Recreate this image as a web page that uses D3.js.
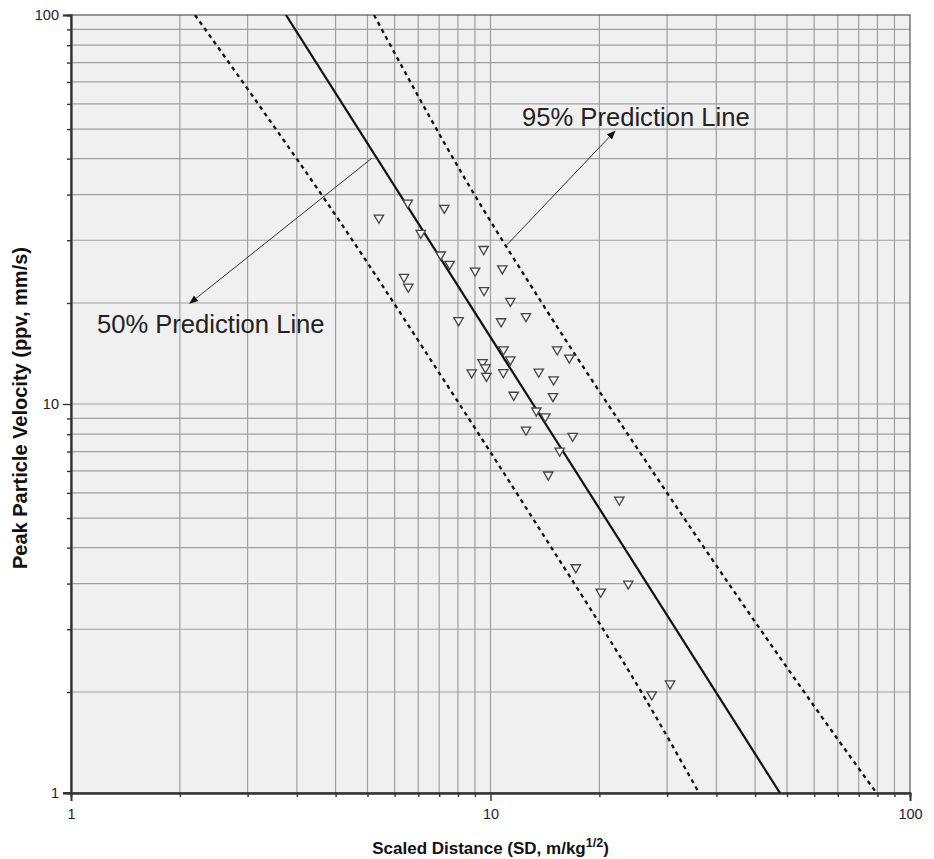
<!DOCTYPE html>
<html>
<head>
<meta charset="utf-8">
<script src="https://cdn.jsdelivr.net/npm/d3@7/dist/d3.min.js"></script>
<style>
  body { margin: 0; background: #fff; }
  text { font-family: "Liberation Sans", Arial, sans-serif; }
</style>
</head>
<body>
<div id="chart"></div>
<script>
// Measured blasts: scaled distance (m/kg^1/2) and peak particle velocity (mm/s)
const sd  = [5.42, 6.35, 7.76, 6.82, 9.63, 7.61, 7.99, 10.67, 9.19, 6.22, 6.37, 9.65, 11.15, 12.15,
             8.39, 10.6, 10.74, 14.42, 15.41, 11.15, 9.57, 9.73, 13.03, 9.02, 10.73, 9.78, 14.14,
             11.36, 14.09, 12.86, 13.51, 12.15, 15.7, 14.62, 13.73, 20.28, 15.97, 21.3, 18.31, 26.79, 24.23];
const ppv = [30.1, 32.9, 31.9, 27.5, 25.0, 24.2, 22.9, 22.3, 22.0, 21.2, 20.0, 19.6, 18.4, 16.8,
             16.4, 16.3, 13.8, 13.8, 13.15, 13.0, 12.8, 12.4, 12.1, 12.05, 12.06, 11.8, 11.55,
             10.55, 10.47, 9.61, 9.28, 8.58, 8.27, 7.58, 6.58, 5.67, 3.80, 3.45, 3.29, 1.91, 1.79];

// 50% prediction (fitted) line
const fitSd  = [3.254, 48.98];
const fitPpv = [100, 1];

// 95% prediction bands
const lowSd   = [1.975, 2.647, 4.377, 7.65, 12.54, 24.0, 31.41];
const lowPpv  = [100, 64.15, 29.42, 11.75, 5.13, 1.667, 1];
const highSd  = [5.276, 8.73, 13.12, 23.35, 39.33, 67.47, 83.2];
const highPpv = [100, 37.65, 18.51, 7.18, 3.134, 1.368, 1];

const xTicks = [1, 10, 100];
const yTicks = [1, 10, 100];

const width = 934, height = 859;
const margin = { top: 15, right: 24, bottom: 66, left: 71 };

const svg = d3.select('#chart').append('svg')
    .attr('width', width)
    .attr('height', height);

const x = d3.scaleLog().domain([1, 100]).range([margin.left, width - margin.right]);
const y = d3.scaleLog().domain([1, 100]).range([height - margin.bottom, margin.top]);

// minor grid: 11 equal steps inside each decade
const minors = [];
[1, 10].forEach(d => { for (let k = 1; k <= 10; k++) minors.push(d + k * d * 9 / 11); });

// plot background
svg.append('rect')
    .attr('x', margin.left).attr('y', margin.top)
    .attr('width', x(100) - x(1)).attr('height', y(1) - y(100))
    .attr('fill', '#f0f0f0');

const grid = svg.append('g').attr('stroke', '#a0a0a0').attr('stroke-width', 1.2);
grid.selectAll('.vx').data(minors.concat([10])).enter().append('line')
    .attr('x1', d => x(d)).attr('x2', d => x(d))
    .attr('y1', y(1)).attr('y2', y(100));
grid.selectAll('.hy').data(minors.concat([10])).enter().append('line')
    .attr('y1', d => y(d)).attr('y2', d => y(d))
    .attr('x1', x(1)).attr('x2', x(100));

// frame
svg.append('rect')
    .attr('x', margin.left).attr('y', margin.top)
    .attr('width', x(100) - x(1)).attr('height', y(1) - y(100))
    .attr('fill', 'none').attr('stroke', '#555').attr('stroke-width', 1.2);

// axes
const fmt = d3.format('d');
const xAxis = svg.append('g')
    .attr('transform', `translate(0,${y(1)})`)
    .call(d3.axisBottom(x).tickValues(xTicks).tickFormat(fmt).tickSize(8).tickPadding(8));
const xMinor = svg.append('g')
    .attr('transform', `translate(0,${y(1)})`)
    .call(d3.axisBottom(x).tickValues(minors).tickFormat('').tickSize(4));
const yAxis = svg.append('g')
    .attr('transform', `translate(${x(1)},0)`)
    .call(d3.axisLeft(y).tickValues(yTicks).tickFormat(fmt).tickSize(8).tickPadding(4));
const yMinor = svg.append('g')
    .attr('transform', `translate(${x(1)},0)`)
    .call(d3.axisLeft(y).tickValues(minors).tickFormat('').tickSize(4));

[xAxis, xMinor, yAxis, yMinor].forEach(g => {
  g.select('.domain').attr('stroke', '#333').attr('stroke-width', 1.8);
  g.selectAll('.tick line').attr('stroke', '#333').attr('stroke-width', 1.4);
  g.selectAll('.tick text').attr('fill', '#222').style('font-size', '14.5px');
});
// extend bottom axis line to the left like the original
svg.append('line')
    .attr('x1', x(1) - 8).attr('x2', x(1))
    .attr('y1', y(1)).attr('y2', y(1))
    .attr('stroke', '#333').attr('stroke-width', 1.8);

// clip for curves
svg.append('clipPath').attr('id', 'plot')
  .append('rect')
    .attr('x', margin.left).attr('y', margin.top)
    .attr('width', x(100) - x(1)).attr('height', y(1) - y(100));

const lines = svg.append('g').attr('clip-path', 'url(#plot)');
const path = d3.line().x(d => x(d[0])).y(d => y(d[1])).curve(d3.curveMonotoneX);

lines.append('path')
    .datum(fitSd.map((d, i) => [d, fitPpv[i]]))
    .attr('d', path)
    .attr('fill', 'none').attr('stroke', '#111').attr('stroke-width', 2.2);

[[lowSd, lowPpv], [highSd, highPpv]].forEach(([sx, py]) => {
  lines.append('path')
      .datum(sx.map((d, i) => [d, py[i]]))
      .attr('d', path)
      .attr('fill', 'none').attr('stroke', '#111').attr('stroke-width', 2.3)
      .attr('stroke-dasharray', '4,4');
});

// data markers: downward triangles
svg.append('g').selectAll('path')
    .data(sd.map((d, i) => [d, ppv[i]]))
    .enter().append('path')
    .attr('d', d3.symbol().type(d3.symbolTriangle).size(38))
    .attr('transform', d => `translate(${x(d[0])},${y(d[1])}) rotate(180)`)
    .attr('fill', '#f4f4f4').attr('stroke', '#444').attr('stroke-width', 1.3);

// annotations
svg.append('defs').append('marker')
    .attr('id', 'arrow').attr('viewBox', '0 0 10 10')
    .attr('refX', 9).attr('refY', 5)
    .attr('markerWidth', 9).attr('markerHeight', 9)
    .attr('markerUnits', 'userSpaceOnUse')
    .attr('orient', 'auto')
  .append('path').attr('d', 'M0,1 L10,5 L0,9 z').attr('fill', '#111');

const arrows = [
  { from: [10.96, 25.7], to: [19.8, 50.3] },
  { from: [5.21, 42.8], to: [1.92, 18.15] }
];
svg.append('g').selectAll('line')
    .data(arrows).enter().append('line')
    .attr('x1', d => x(d.from[0])).attr('y1', d => y(d.from[1]))
    .attr('x2', d => x(d.to[0])).attr('y2', d => y(d.to[1]))
    .attr('stroke', '#333').attr('stroke-width', 1)
    .attr('marker-end', 'url(#arrow)');

const notes = [
  { text: '95% Prediction Line', at: [11.89, 51.8] },
  { text: '50% Prediction Line', at: [1.153, 15.2] }
];
svg.append('g').selectAll('text')
    .data(notes).enter().append('text')
    .attr('x', d => x(d.at[0])).attr('y', d => y(d.at[1]))
    .attr('fill', '#222')
    .style('font-size', '25.6px')
    .text(d => d.text);

// axis titles
const xt = svg.append('text')
    .attr('x', (x(1) + x(100)) / 2).attr('y', 854)
    .attr('text-anchor', 'middle')
    .attr('fill', '#111')
    .style('font-size', '17px').style('font-weight', 'bold');
xt.append('tspan').text('Scaled Distance (SD, m/kg');
xt.append('tspan').attr('dy', -7).style('font-size', '12.5px').text('1/2');
xt.append('tspan').attr('dy', 7).text(')');

svg.append('text')
    .attr('transform', `translate(27,${(y(1) + y(100)) / 2 + 4}) rotate(-90)`)
    .attr('text-anchor', 'middle')
    .attr('fill', '#111')
    .style('font-size', '20px').style('font-weight', 'bold')
    .text('Peak Particle Velocity (ppv, mm/s)');
</script>
</body>
</html>
